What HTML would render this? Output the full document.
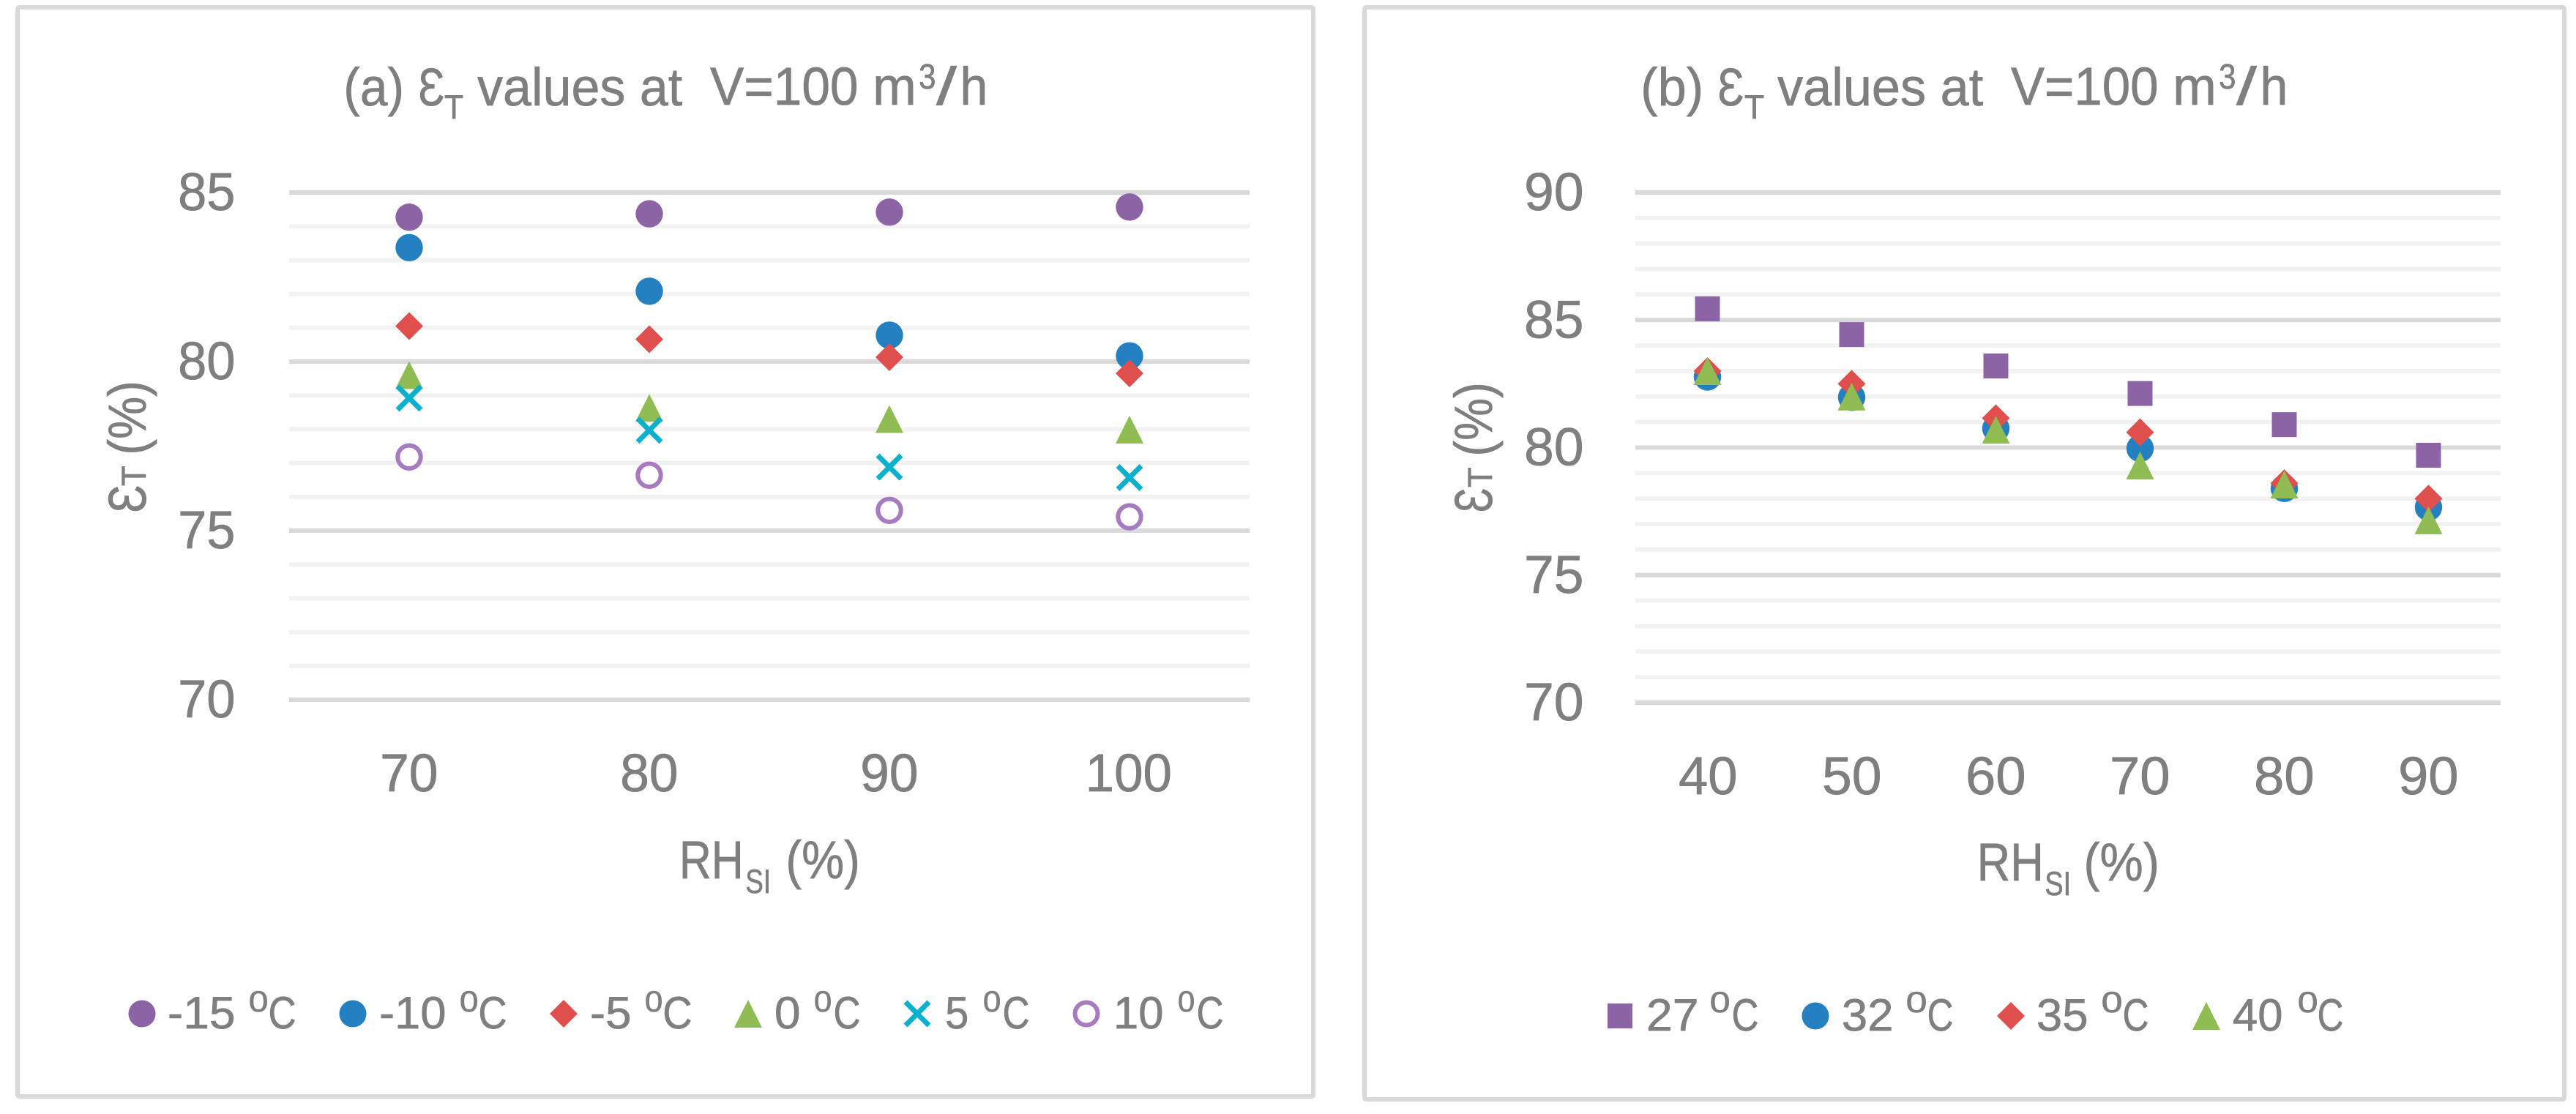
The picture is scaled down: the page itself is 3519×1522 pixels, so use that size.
<!DOCTYPE html>
<html lang="en">
<head>
<meta charset="utf-8">
<title>Temperature effectiveness charts</title>
<style>
html,body{margin:0;padding:0;background:#fff;width:3519px;height:1522px;overflow:hidden}
svg{display:block}
text{font-family:"Liberation Sans","DejaVu Sans",sans-serif;fill:#7f7f7f;stroke:#7f7f7f;stroke-width:.7;text-rendering:geometricPrecision}
</style>
</head>
<body>
<svg id="root" xmlns="http://www.w3.org/2000/svg" width="3519" height="1522" viewBox="0 0 3519 1522">
  <rect x="0" y="0" width="3519" height="1522" fill="#fff"/>

  <!-- PANEL A -->
  <g id="panel-a">
    <rect x="24" y="10" width="1770" height="1488" rx="2" fill="#fff" stroke="#d9d9d9" stroke-width="6"/>
    <g>
      <text x="473" y="144" font-size="73" textLength="75" lengthAdjust="spacingAndGlyphs">(a)</text>
      <text x="574" y="144" font-size="73" textLength="32" lengthAdjust="spacingAndGlyphs">Ɛ</text>
      <text x="608" y="162" font-size="46" textLength="25" lengthAdjust="spacingAndGlyphs">T</text>
      <text x="652" y="144" font-size="73" textLength="280" lengthAdjust="spacingAndGlyphs">values at</text>
      <text x="970" y="143" font-size="73" textLength="200" lengthAdjust="spacingAndGlyphs">V=100</text>
      <text x="1196" y="143" font-size="73" textLength="51" lengthAdjust="spacingAndGlyphs">m</text>
      <text x="1256" y="121" font-size="48" textLength="21" lengthAdjust="spacingAndGlyphs">3</text>
      <text x="1279" y="143" font-size="73" textLength="29" lengthAdjust="spacingAndGlyphs">/</text>
      <text x="1316" y="143" font-size="73" textLength="29" lengthAdjust="spacingAndGlyphs">h</text>
    </g>
    <g>
      <text x="199" y="698" transform="rotate(-90 199 698)" font-size="73" textLength="34" lengthAdjust="spacingAndGlyphs">Ɛ</text>
      <text x="199" y="663" transform="rotate(-90 199 663)" font-size="47" textLength="26" lengthAdjust="spacingAndGlyphs">T</text>
      <text x="199" y="618" transform="rotate(-90 199 618)" font-size="73" textLength="94" lengthAdjust="spacingAndGlyphs">(%)</text>
    </g>
    <g>
      <text x="932" y="1200" font-size="73" textLength="79" lengthAdjust="spacingAndGlyphs">RH</text>
      <text x="1020" y="1220" font-size="46" textLength="30" lengthAdjust="spacingAndGlyphs">SI</text>
      <text x="1077" y="1200" font-size="73" textLength="94" lengthAdjust="spacingAndGlyphs">(%)</text>
    </g>
    <g id="grid-a"></g>
    <g id="yticks-a"></g>
    <g id="xticks-a"></g>
    <g id="marks-a"></g>
    <g>
      <g>
        <circle cx="194" cy="1385" r="18.5" fill="#8c64a5"/>
        <text x="231" y="1405" font-size="62" textLength="88" lengthAdjust="spacingAndGlyphs">-15</text>
        <text x="341" y="1382" font-size="40" textLength="24" lengthAdjust="spacingAndGlyphs">0</text>
        <text x="369" y="1405" font-size="62" textLength="34" lengthAdjust="spacingAndGlyphs">C</text>
      </g>
      <g>
        <circle cx="482" cy="1385" r="18.5" fill="#2480c0"/>
        <text x="520" y="1405" font-size="62" textLength="88" lengthAdjust="spacingAndGlyphs">-10</text>
        <text x="629" y="1382" font-size="40" textLength="23" lengthAdjust="spacingAndGlyphs">0</text>
        <text x="656" y="1405" font-size="62" textLength="35" lengthAdjust="spacingAndGlyphs">C</text>
      </g>
      <g>
        <path d="M770 1366L789 1385L770 1404L751 1385Z" fill="#de4f4d"/>
        <text x="808" y="1405" font-size="62" textLength="52" lengthAdjust="spacingAndGlyphs">-5</text>
        <text x="882" y="1382" font-size="40" textLength="22" lengthAdjust="spacingAndGlyphs">0</text>
        <text x="908" y="1405" font-size="62" textLength="36" lengthAdjust="spacingAndGlyphs">C</text>
      </g>
      <g>
        <path d="M1022 1366L1041 1404L1003 1404Z" fill="#8fbd53"/>
        <text x="1060" y="1405" font-size="62" textLength="32" lengthAdjust="spacingAndGlyphs">0</text>
        <text x="1113" y="1382" font-size="40" textLength="22" lengthAdjust="spacingAndGlyphs">0</text>
        <text x="1141" y="1405" font-size="62" textLength="33" lengthAdjust="spacingAndGlyphs">C</text>
      </g>
      <g>
        <path d="M1237 1369L1269 1401M1269 1369L1237 1401" fill="none" stroke="#0bb0cc" stroke-width="7"/>
        <text x="1293" y="1405" font-size="62" textLength="28" lengthAdjust="spacingAndGlyphs">5</text>
        <text x="1344" y="1382" font-size="40" textLength="22" lengthAdjust="spacingAndGlyphs">0</text>
        <text x="1372" y="1405" font-size="62" textLength="33" lengthAdjust="spacingAndGlyphs">C</text>
      </g>
      <g>
        <circle cx="1484" cy="1385" r="15.5" fill="#fff" stroke="#a67bc0" stroke-width="6"/>
        <text x="1525" y="1405" font-size="62" textLength="63" lengthAdjust="spacingAndGlyphs">10</text>
        <text x="1610" y="1382" font-size="40" textLength="21" lengthAdjust="spacingAndGlyphs">0</text>
        <text x="1637" y="1405" font-size="62" textLength="33" lengthAdjust="spacingAndGlyphs">C</text>
      </g>
    </g>
  </g>

  <!-- PANEL B -->
  <g id="panel-b">
    <rect x="1864" y="10" width="1639" height="1492" rx="2" fill="#fff" stroke="#d9d9d9" stroke-width="6"/>
    <g>
      <text x="2245" y="144" font-size="73" textLength="78" lengthAdjust="spacingAndGlyphs">(b)</text>
      <text x="2349" y="144" font-size="73" textLength="32" lengthAdjust="spacingAndGlyphs">Ɛ</text>
      <text x="2384" y="162" font-size="46" textLength="26" lengthAdjust="spacingAndGlyphs">T</text>
      <text x="2428" y="144" font-size="73" textLength="281" lengthAdjust="spacingAndGlyphs">values at</text>
      <text x="2747" y="143" font-size="73" textLength="199" lengthAdjust="spacingAndGlyphs">V=100</text>
      <text x="2972" y="143" font-size="73" textLength="51" lengthAdjust="spacingAndGlyphs">m</text>
      <text x="3032" y="121" font-size="48" textLength="21" lengthAdjust="spacingAndGlyphs">3</text>
      <text x="3055" y="143" font-size="73" textLength="29" lengthAdjust="spacingAndGlyphs">/</text>
      <text x="3092" y="143" font-size="73" textLength="29" lengthAdjust="spacingAndGlyphs">h</text>
    </g>
    <g>
      <text x="2038" y="698" transform="rotate(-90 2038 698)" font-size="73" textLength="30" lengthAdjust="spacingAndGlyphs">Ɛ</text>
      <text x="2038" y="665" transform="rotate(-90 2038 665)" font-size="47" textLength="26" lengthAdjust="spacingAndGlyphs">T</text>
      <text x="2038" y="620" transform="rotate(-90 2038 620)" font-size="73" textLength="94" lengthAdjust="spacingAndGlyphs">(%)</text>
    </g>
    <g>
      <text x="2705" y="1203" font-size="73" textLength="82" lengthAdjust="spacingAndGlyphs">RH</text>
      <text x="2795" y="1223" font-size="46" textLength="31" lengthAdjust="spacingAndGlyphs">SI</text>
      <text x="2850" y="1203" font-size="73" textLength="96" lengthAdjust="spacingAndGlyphs">(%)</text>
    </g>
    <g id="grid-b"></g>
    <g id="yticks-b"></g>
    <g id="xticks-b"></g>
    <g id="marks-b"></g>
    <g>
      <g>
        <rect x="2196" y="1371" width="34" height="34" fill="#8c64a5"/>
        <text x="2252" y="1408" font-size="62" textLength="66" lengthAdjust="spacingAndGlyphs">27</text>
        <text x="2337" y="1383" font-size="40" textLength="25" lengthAdjust="spacingAndGlyphs">0</text>
        <text x="2368" y="1408" font-size="62" textLength="33" lengthAdjust="spacingAndGlyphs">C</text>
      </g>
      <g>
        <circle cx="2480" cy="1388" r="18.5" fill="#2480c0"/>
        <text x="2518" y="1408" font-size="62" textLength="66" lengthAdjust="spacingAndGlyphs">32</text>
        <text x="2605" y="1383" font-size="40" textLength="26" lengthAdjust="spacingAndGlyphs">0</text>
        <text x="2635" y="1408" font-size="62" textLength="32" lengthAdjust="spacingAndGlyphs">C</text>
      </g>
      <g>
        <path d="M2747 1369L2766 1388L2747 1407L2728 1388Z" fill="#de4f4d"/>
        <text x="2784" y="1408" font-size="62" textLength="66" lengthAdjust="spacingAndGlyphs">35</text>
        <text x="2872" y="1383" font-size="40" textLength="26" lengthAdjust="spacingAndGlyphs">0</text>
        <text x="2902" y="1408" font-size="62" textLength="32" lengthAdjust="spacingAndGlyphs">C</text>
      </g>
      <g>
        <path d="M3014 1369L3033 1407L2995 1407Z" fill="#8fbd53"/>
        <text x="3051" y="1408" font-size="62" textLength="66" lengthAdjust="spacingAndGlyphs">40</text>
        <text x="3140" y="1383" font-size="40" textLength="25" lengthAdjust="spacingAndGlyphs">0</text>
        <text x="3168" y="1408" font-size="62" textLength="32" lengthAdjust="spacingAndGlyphs">C</text>
      </g>
    </g>
  </g>
</svg>

<script>
// Chart (a) data
const categoriesA = ['70', '80', '90', '100'];
const yTickLabelsA = [70, 75, 80, 85];
const tempMinus15 = [84.27, 84.37, 84.42, 84.57];
const tempMinus10 = [83.37, 82.08, 80.78, 80.17];
const tempMinus5 = [81.05, 80.66, 80.13, 79.65];
const temp0 = [79.6, 78.63, 78.3, 77.99];
const temp5 = [78.92, 77.97, 76.88, 76.57];
const temp10 = [77.18, 76.64, 75.6, 75.41];

// Chart (b) data
const categoriesB = ['40', '50', '60', '70', '80', '90'];
const yTickLabelsB = [70, 75, 80, 85, 90];
const temp27 = [85.44, 84.43, 83.2, 82.12, 80.9, 79.7];
const temp32 = [82.77, 81.97, 80.75, 79.97, 78.4, 77.66];
const temp35 = [83.0, 82.5, 81.15, 80.6, 78.6, 78.0];
const temp40 = [83.0, 82.0, 80.7, 79.3, 78.55, 77.15];

const NS = 'http://www.w3.org/2000/svg';

function linearY(v, lo, hi, pxLo, pxHi) {
  return pxLo + (v - lo) / (hi - lo) * (pxHi - pxLo);
}
function bandX(i, count, pxLeft, pxRight) {
  return pxLeft + (i + 0.5) * (pxRight - pxLeft) / count;
}

function drawGrid(id, lo, hi, left, right, pxLo, pxHi) {
  const g = document.getElementById(id);
  for (let pass = 0; pass < 2; pass++) {
    for (let v = lo; v <= hi; v++) {
      const major = v % 5 === 0;
      if (major !== (pass === 1)) continue;
      const y = linearY(v, lo, hi, pxLo, pxHi);
      const el = document.createElementNS(NS, 'line');
      el.setAttribute('x1', left);
      el.setAttribute('x2', right);
      el.setAttribute('y1', y);
      el.setAttribute('y2', y);
      el.setAttribute('stroke', major ? '#d9d9d9' : '#f2f2f2');
      el.setAttribute('stroke-width', 6);
      
      
      g.appendChild(el);
    }
  }
}

function drawYTicks(id, labels, lo, hi, pxLo, pxHi, rightEdge, width) {
  const g = document.getElementById(id);
  labels.forEach(function (label) {
    const el = document.createElementNS(NS, 'text');
    el.setAttribute('x', rightEdge - width);
    el.setAttribute('y', linearY(label, lo, hi, pxLo, pxHi) + 24);
    el.setAttribute('font-size', 73);
    el.setAttribute('textLength', width);
    el.setAttribute('lengthAdjust', 'spacingAndGlyphs');
    el.textContent = label;
    
    
    g.appendChild(el);
  });
}

function drawXTicks(id, labels, left, right, baseline, charWidth) {
  const g = document.getElementById(id);
  labels.forEach(function (label, i) {
    const w = label.length * charWidth;
    const el = document.createElementNS(NS, 'text');
    el.setAttribute('x', bandX(i, labels.length, left, right) - w / 2);
    el.setAttribute('y', baseline);
    el.setAttribute('font-size', 73);
    el.setAttribute('textLength', w);
    el.setAttribute('lengthAdjust', 'spacingAndGlyphs');
    el.textContent = label;
    
    
    g.appendChild(el);
  });
}

function markerShape(shape, cx, cy, color) {
  let el;
  if (shape === 'circle') {
    el = document.createElementNS(NS, 'circle');
    el.setAttribute('cx', cx);
    el.setAttribute('cy', cy);
    el.setAttribute('r', 18.7);
    el.setAttribute('fill', color);
  } else if (shape === 'ring') {
    el = document.createElementNS(NS, 'circle');
    el.setAttribute('cx', cx);
    el.setAttribute('cy', cy);
    el.setAttribute('r', 15.7);
    el.setAttribute('fill', '#fff');
    el.setAttribute('stroke', color);
    el.setAttribute('stroke-width', 6);
  } else if (shape === 'square') {
    el = document.createElementNS(NS, 'rect');
    el.setAttribute('x', cx - 17);
    el.setAttribute('y', cy - 17);
    el.setAttribute('width', 34);
    el.setAttribute('height', 34);
    el.setAttribute('fill', color);
  } else if (shape === 'diamond') {
    el = document.createElementNS(NS, 'path');
    el.setAttribute('d', 'M' + cx + ' ' + (cy - 19) + 'L' + (cx + 19) + ' ' + cy + 'L' + cx + ' ' + (cy + 19) + 'L' + (cx - 19) + ' ' + cy + 'Z');
    el.setAttribute('fill', color);
  } else if (shape === 'triangle') {
    el = document.createElementNS(NS, 'path');
    el.setAttribute('d', 'M' + cx + ' ' + (cy - 19) + 'L' + (cx + 19) + ' ' + (cy + 19) + 'L' + (cx - 19) + ' ' + (cy + 19) + 'Z');
    el.setAttribute('fill', color);
  } else {
    el = document.createElementNS(NS, 'path');
    el.setAttribute('d', 'M' + (cx - 16) + ' ' + (cy - 16) + 'L' + (cx + 16) + ' ' + (cy + 16) + 'M' + (cx + 16) + ' ' + (cy - 16) + 'L' + (cx - 16) + ' ' + (cy + 16));
    el.setAttribute('fill', 'none');
    el.setAttribute('stroke', color);
    el.setAttribute('stroke-width', 7);
  }
  return el;
}

function plotSeries(id, seriesName, values, shape, color, lo, hi, pxLo, pxHi, left, right) {
  const g = document.getElementById(id);
  values.forEach(function (v, i) {
    const cx = bandX(i, values.length, left, right);
    const cy = linearY(v, lo, hi, pxLo, pxHi);
    const el = markerShape(shape, cx, cy, color);
    
    
    g.appendChild(el);
  });
}

// Chart (a) axes: y 70..85
const aLo = 70, aHi = 85, aPxLo = 956, aPxHi = 263, aLeft = 395, aRight = 1707;
drawGrid('grid-a', aLo, aHi, aLeft, aRight, aPxLo, aPxHi);
drawYTicks('yticks-a', yTickLabelsA, aLo, aHi, aPxLo, aPxHi, 319, 73);
drawXTicks('xticks-a', categoriesA, aLeft, aRight, 1081, 37);
plotSeries('marks-a', 'series-minus-15', tempMinus15, 'circle', '#8c64a5', aLo, aHi, aPxLo, aPxHi, aLeft, aRight);
plotSeries('marks-a', 'series-minus-10', tempMinus10, 'circle', '#2480c0', aLo, aHi, aPxLo, aPxHi, aLeft, aRight);
plotSeries('marks-a', 'series-minus-5', tempMinus5, 'diamond', '#de4f4d', aLo, aHi, aPxLo, aPxHi, aLeft, aRight);
plotSeries('marks-a', 'series-0', temp0, 'triangle', '#8fbd53', aLo, aHi, aPxLo, aPxHi, aLeft, aRight);
plotSeries('marks-a', 'series-5', temp5, 'cross', '#0bb0cc', aLo, aHi, aPxLo, aPxHi, aLeft, aRight);
plotSeries('marks-a', 'series-10', temp10, 'ring', '#a67bc0', aLo, aHi, aPxLo, aPxHi, aLeft, aRight);

// Chart (b) axes: y 70..90
const bLo = 70, bHi = 90, bPxLo = 960, bPxHi = 263, bLeft = 2234, bRight = 3416;
drawGrid('grid-b', bLo, bHi, bLeft, bRight, bPxLo, bPxHi);
drawYTicks('yticks-b', yTickLabelsB, bLo, bHi, bPxLo, bPxHi, 2161, 76);
drawXTicks('xticks-b', categoriesB, bLeft, bRight, 1085, 38.5);
plotSeries('marks-b', 'series-27', temp27, 'square', '#8c64a5', bLo, bHi, bPxLo, bPxHi, bLeft, bRight);
plotSeries('marks-b', 'series-32', temp32, 'circle', '#2480c0', bLo, bHi, bPxLo, bPxHi, bLeft, bRight);
plotSeries('marks-b', 'series-35', temp35, 'diamond', '#de4f4d', bLo, bHi, bPxLo, bPxHi, bLeft, bRight);
plotSeries('marks-b', 'series-40', temp40, 'triangle', '#8fbd53', bLo, bHi, bPxLo, bPxHi, bLeft, bRight);

// Treat each x / textLength as the ink extent of the run: measure the glyph
// ink and rescale so the visible text fills exactly that horizontal span.
const measureCtx = document.createElement('canvas').getContext('2d');
document.querySelectorAll('#root text').forEach(function (t) {
  const size = parseFloat(t.getAttribute('font-size'));
  measureCtx.font = size + 'px "Liberation Sans","DejaVu Sans",sans-serif';
  const m = measureCtx.measureText(t.textContent);
  const ink = m.actualBoundingBoxRight + m.actualBoundingBoxLeft;
  if (!(ink > 0)) return;
  const s = parseFloat(t.getAttribute('textLength')) / ink;
  t.setAttribute('x', parseFloat(t.getAttribute('x')) + m.actualBoundingBoxLeft * s);
  t.setAttribute('textLength', m.width * s);
});
</script>
</body>
</html>
